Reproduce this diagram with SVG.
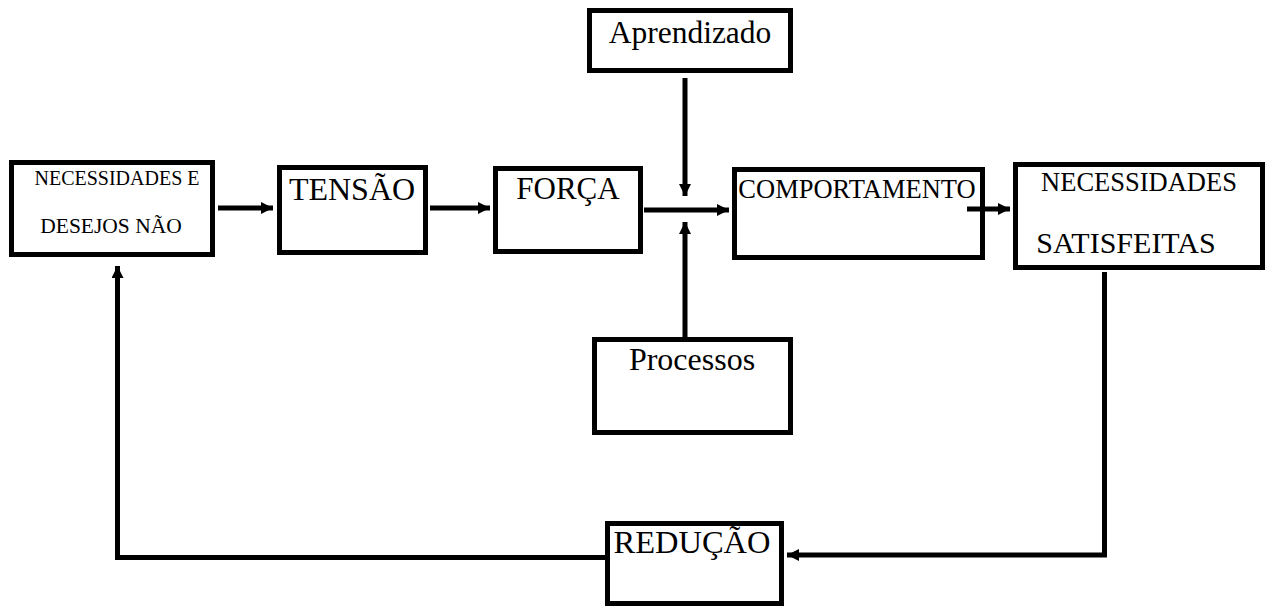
<svg xmlns="http://www.w3.org/2000/svg" width="1270" height="607" viewBox="0 0 1270 607">
<style>
.box{fill:#fff;stroke:#000;stroke-width:5}
.t{font-family:"Liberation Serif","Times New Roman",serif;fill:#000;text-anchor:middle}
.ln{fill:none;stroke:#000;stroke-width:5}
</style>
<defs>
<marker id="ah" markerUnits="userSpaceOnUse" markerWidth="12" markerHeight="12" refX="12" refY="6" orient="auto">
<path d="M0,0 L12,6 L0,12 Z" fill="#000"/>
</marker>
</defs>
<g id="n1"><rect class="box" x="11.5" y="162.5" width="201" height="92"/>
<text class="t" x="117" y="185" font-size="20">NECESSIDADES E</text>
<text class="t" x="111" y="233" font-size="21.5">DESEJOS NÃO</text></g>
<g id="n2"><rect class="box" x="279.5" y="167.5" width="146" height="85"/>
<text class="t" x="352" y="200" font-size="32">TENSÃO</text></g>
<g id="n3"><rect class="box" x="495.5" y="168.5" width="145" height="83"/>
<text class="t" x="568" y="199" font-size="31">FORÇA</text></g>
<g id="n4"><rect class="box" x="734.5" y="169.5" width="248" height="88"/>
<text class="t" x="857" y="198" font-size="26.5">COMPORTAMENTO</text></g>
<g id="n5"><rect class="box" x="1015.5" y="164.5" width="247" height="103"/>
<text class="t" x="1139" y="191" font-size="26.5">NECESSIDADES</text>
<text class="t" x="1126" y="253" font-size="30">SATISFEITAS</text></g>
<g id="n6"><rect class="box" x="589.5" y="10.5" width="201" height="60"/>
<text class="t" x="690" y="43" font-size="31.5">Aprendizado</text></g>
<g id="n7"><rect class="box" x="594.5" y="339.5" width="196" height="93"/>
<text class="t" x="692" y="370" font-size="32">Processos</text></g>
<g id="n8"><rect class="box" x="607.5" y="523.5" width="174" height="80"/>
<text class="t" x="692" y="553" font-size="32.5">REDUÇÃO</text></g>
<g id="connectors">
<line class="ln" x1="218" y1="208" x2="273" y2="208" marker-end="url(#ah)"/>
<line class="ln" x1="430" y1="208" x2="490" y2="208" marker-end="url(#ah)"/>
<line class="ln" x1="644" y1="210" x2="729" y2="210" marker-end="url(#ah)"/>
<line class="ln" x1="967" y1="209" x2="1010" y2="209" marker-end="url(#ah)"/>
<line class="ln" x1="685" y1="78" x2="685" y2="196" marker-end="url(#ah)"/>
<line class="ln" x1="685" y1="337" x2="685" y2="222" marker-end="url(#ah)"/>
<polyline class="ln" points="1104.5,272 1104.5,555 787,555" marker-end="url(#ah)"/>
<polyline class="ln" points="605,557.5 117.5,557.5 117.5,266" marker-end="url(#ah)"/>
</g>
</svg>
